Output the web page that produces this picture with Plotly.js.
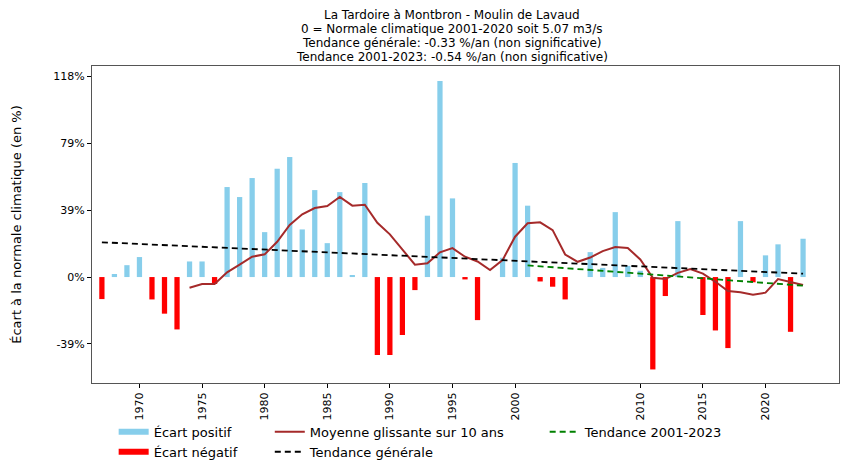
<!DOCTYPE html>
<html><head><meta charset="utf-8">
<script src="https://cdn.plot.ly/plotly-3.0.1.min.js"></script>
<style>html,body{margin:0;padding:0;background:#fff}#chart{width:843px;height:462px}</style>
</head><body><div id="chart"></div>
<script>
// Années
const years = [1967,1968,1969,1970,1971,1972,1973,1974,1975,1976,1977,1978,1979,1980,1981,1982,1983,1984,1985,1986,1987,1988,1989,1990,1991,1992,1993,1994,1995,1996,1997,1998,1999,2000,2001,2002,2003,2004,2005,2006,2007,2008,2009,2010,2011,2012,2013,2014,2015,2016,2017,2018,2019,2020,2021,2022,2023];
// Écart à la normale (%)
const ecart = [-13,1.8,7,11.8,-13.2,-21.6,-30.9,9.2,9.2,-4.1,53.1,47.2,58.4,26.5,63.9,70.8,28.1,51.3,20,50.1,1.2,55.5,-46,-46,-34.2,-7.7,36.2,115.6,46.4,-1.4,-25.4,0,11.4,67.3,42.1,-2.6,-5.7,-13.2,null,14.7,5.4,38.3,6.6,3.7,-54.5,-11.2,33,0,-22.4,-31.5,-41.9,33,-3.1,12.8,19.3,-32.3,22.6];
// Moyenne glissante sur 10 ans
const mgYears = [1974,1975,1976,1977,1978,1979,1980,1981,1982,1983,1984,1985,1986,1987,1988,1989,1990,1991,1992,1993,1994,1995,1996,1997,1998,1999,2000,2001,2002,2003,2004,2005,2006,2007,2008,2009,2010,2011,2012,2013,2014,2015,2016,2017,2018,2019,2020,2021,2022,2023];
const mgValues = [-6.3,-4.1,-4.1,2.8,7.3,12,13.4,20.8,30.7,37,40.7,41.9,47.2,42.1,42.7,32,25.2,15.9,7.3,8.1,14.6,17.1,12,9.2,4.1,10,23.8,31.7,32.3,27.7,13.3,9,11.5,15.3,17.7,17.1,10.4,-0.4,-1.2,2.5,4.7,2,-2.8,-8.3,-9,-10.4,-9.2,-1.2,-3.1,-4.7];
// Tendances
const trendGenYears = [1967,2023];
const trendGenValues = [20.5,2.0];
const trendRecYears = [2001,2023];
const trendRecValues = [6.9,-5.1];
// Graduations
const xTickVals = [1970,1975,1980,1985,1990,1995,2000,2010,2015,2020];
const yTickVals = [-39.45,0,39.45,78.9,118.34];
const yTickText = ['-39%','0%','39%','79%','118%'];
// Titre
const titleLines = ['La Tardoire à Montbron - Moulin de Lavaud','0 = Normale climatique 2001-2020 soit 5.07 m3/s','Tendance générale: -0.33 %/an (non significative)','Tendance 2001-2023: -0.54 %/an (non significative)'];

const posVals = ecart.map(v => (v !== null && v > 0) ? v : null);
const negVals = ecart.map(v => (v !== null && v < 0) ? v : null);

const F = 'DejaVu Sans, sans-serif';
const traces = [
  {type:'bar', x:years, y:posVals, width:0.42, marker:{color:'#87CEEB'}, showlegend:false, hoverinfo:'skip'},
  {type:'bar', x:years, y:negVals, width:0.42, marker:{color:'#FF0000'}, showlegend:false, hoverinfo:'skip'},
  {type:'scatter', mode:'lines', x:mgYears, y:mgValues, line:{color:'#A52A2A', width:2}, showlegend:false},
  {type:'scatter', mode:'lines', x:trendGenYears, y:trendGenValues, line:{color:'#000000', width:1.8, dash:'6px,4px'}, showlegend:false},
  {type:'scatter', mode:'lines', x:trendRecYears, y:trendRecValues, line:{color:'#008000', width:1.8, dash:'6px,4px'}, showlegend:false},
  // legend entries
  {type:'scatter', mode:'lines', x:[null], y:[null], name:'Écart positif', line:{color:'#87CEEB', width:6}, legend:'legend'},
  {type:'scatter', mode:'lines', x:[null], y:[null], name:'Écart négatif', line:{color:'#FF0000', width:6}, legend:'legend'},
  {type:'scatter', mode:'lines', x:[null], y:[null], name:'Moyenne glissante sur 10 ans', line:{color:'#A52A2A', width:2}, legend:'legend2'},
  {type:'scatter', mode:'lines', x:[null], y:[null], name:'Tendance générale', line:{color:'#000000', width:2, dash:'6px,4px'}, legend:'legend2'},
  {type:'scatter', mode:'lines', x:[null], y:[null], name:'Tendance 2001-2023', line:{color:'#008000', width:2, dash:'6px,4px'}, legend:'legend3'}
];

// title lines as centred annotations (centre x ≈ 452px, lines every 14px from y ≈ 15px)
const plotTop = 66, plotH = 317, plotL = 92, plotW = 747;
const annotations = titleLines.map((t, i) => ({
  text: t, showarrow:false, xref:'paper', yref:'paper',
  x:(452 - plotL) / plotW, xanchor:'center',
  y:(plotTop + plotH - (15 + 14 * i)) / plotH, yanchor:'middle',
  font:{family:F, size:12, color:'#000'}
}));

const legBase = {orientation:'v', yanchor:'top', y:-0.107, font:{family:F, size:13, color:'#000'}, bgcolor:'rgba(0,0,0,0)', itemwidth:30, tracegroupgap:0};
const layout = {
  width:843, height:462,
  margin:{l:92, r:4, t:66, b:79, autoexpand:false},
  paper_bgcolor:'#fff', plot_bgcolor:'#fff',
  barmode:'overlay',
  annotations: annotations,
  xaxis:{range:[1966.21,2025.87], tickvals:xTickVals, tickangle:-90, ticks:'outside', ticklen:4, tickcolor:'#000', showgrid:false, zeroline:false,
    showline:true, mirror:true, linecolor:'#555', linewidth:1, tickfont:{family:F, size:11, color:'#000'}},
  yaxis:{range:[-62.5,124.5], tickvals:yTickVals, ticktext:yTickText, ticks:'outside', ticklen:4, tickcolor:'#000', showgrid:false, zeroline:false,
    showline:true, mirror:true, linecolor:'#555', linewidth:1, tickfont:{family:F, size:11, color:'#000'},
    title:{text:'Écart à la normale climatique (en %)', font:{family:F, size:13, color:'#000'}, standoff:28}},
  legend:Object.assign({}, legBase, {x:0.029, xanchor:'left'}),
  legend2:Object.assign({}, legBase, {x:0.238, xanchor:'left'}),
  legend3:Object.assign({}, legBase, {x:0.606, xanchor:'left'})
};
Plotly.newPlot('chart', traces, layout, {displayModeBar:false, staticPlot:true});
</script></body></html>
